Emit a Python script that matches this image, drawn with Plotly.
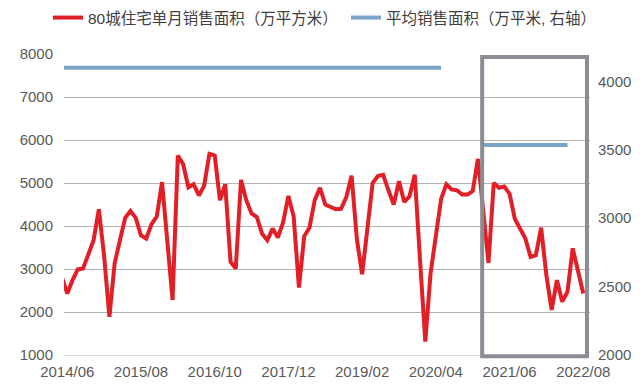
import plotly.graph_objects as go

# Categories: monthly, 2014/05 .. 2022/08
months = []
for y in range(2014, 2023):
    for m in range(1, 13):
        if (y == 2014 and m < 5) or (y == 2022 and m > 8):
            continue
        months.append(f"{y}/{m:02d}")

tick_labels = ["2014/06", "2015/08", "2016/10", "2017/12", "2019/02", "2020/04", "2021/06", "2022/08"]

# 80城住宅单月销售面积（万平方米）
sales_area = [
    2800, 2430, 2740, 2990, 3010, 3360, 3670, 4390, 3300, 1890,
    3130, 3670, 4190, 4350, 4190, 3780, 3710, 4040, 4220, 5020,
    3600, 2280, 5640, 5440, 4900, 4970, 4710, 4940, 5680, 5640,
    4600, 4970, 3170, 3010, 5070, 4600, 4290, 4210, 3820, 3670,
    3940, 3730, 4090, 4700, 4220, 2570, 3760, 3960, 4600, 4890,
    4500, 4440, 4390, 4400, 4670, 5170, 3700, 2880, 4050, 5000,
    5160, 5190, 4830, 4500, 5040, 4560, 4690, 5190, 3200, 1310,
    2900, 3800, 4630, 4970, 4850, 4830, 4730, 4730, 4810, 5560,
    4300, 3140, 5000, 4890, 4920, 4750, 4170, 3940, 3710, 3280,
    3320, 3960, 2850, 2050, 2740, 2240, 2470, 3480, 2950, 2430,
]

# 平均销售面积（万平米, 右轴）: two period averages
avg_x = ["2014/05", "2020/05", "2020/06", "2021/01", "2022/05"]
avg_y = [4100, 4100, None, 3535, 3535]

FONT = "Liberation Sans, Arial, Noto Sans CJK SC, sans-serif"
RED = "#e21f26"
BLUE = "#7aa3c6"
GRID = "#b4b4b4"

fig = go.Figure()
fig.add_trace(go.Scatter(
    x=months, y=sales_area, mode="lines", name="80城住宅单月销售面积（万平方米）",
    line=dict(color=RED, width=4), legend="legend", yaxis="y",
))
fig.add_trace(go.Scatter(
    x=avg_x, y=avg_y, mode="lines", name="平均销售面积（万平米, 右轴）",
    line=dict(color=BLUE, width=4), connectgaps=False, legend="legend2", yaxis="y2",
))

# highlight box (2021 onwards)
fig.add_shape(type="rect", xref="x", yref="paper", x0=79.8, x1=99.7, y0=-0.004, y1=0.99,
              line=dict(color="#8b8d95", width=4), fillcolor="rgba(0,0,0,0)", layer="above")

fig.update_layout(
    template="none",
    width=640, height=388,
    margin=dict(l=64, r=50, t=54, b=33, pad=0),
    paper_bgcolor="white", plot_bgcolor="white",
    showlegend=True,
    font=dict(family=FONT, size=15, color="#595959"),
    xaxis=dict(
        type="category", categoryorder="array", categoryarray=months,
        range=[0.38, 100.28], tickmode="array", tickvals=tick_labels, ticktext=tick_labels,
        showgrid=False, showline=True, linecolor="#d9d9d9", linewidth=1,
        ticks="", ticklabelstandoff=3, tickfont=dict(size=15, color="#595959"),
        zeroline=False, automargin=False,
    ),
    yaxis=dict(
        range=[1000, 8000], tickmode="array", tickvals=list(range(1000, 8001, 1000)),
        showgrid=True, gridcolor=GRID, gridwidth=1, zeroline=False, showline=False,
        ticks="", ticklabelstandoff=10, tickfont=dict(size=15, color="#595959"),
        automargin=False,
    ),
    yaxis2=dict(
        range=[2000, 4200], overlaying="y", side="right", tickmode="array",
        tickvals=[2000, 2500, 3000, 3500, 4000], showgrid=False, zeroline=False,
        showline=False, ticks="", ticklabelstandoff=7, tickfont=dict(size=15, color="#595959"),
        automargin=False,
    ),
    legend=dict(orientation="h", xref="container", yref="container", x=48/640, y=1-18/388,
                xanchor="left", yanchor="middle", bgcolor="rgba(0,0,0,0)",
                font=dict(size=15.5, color="#404040", family=FONT)),
    legend2=dict(orientation="h", xref="container", yref="container", x=346/640, y=1-18/388,
                 xanchor="left", yanchor="middle", bgcolor="rgba(0,0,0,0)",
                 font=dict(size=15.5, color="#404040", family=FONT)),
)

fig.write_html("out.html", config={"displayModeBar": False},
               post_script="document.body.style.margin='0px';document.body.style.overflow='hidden';")
